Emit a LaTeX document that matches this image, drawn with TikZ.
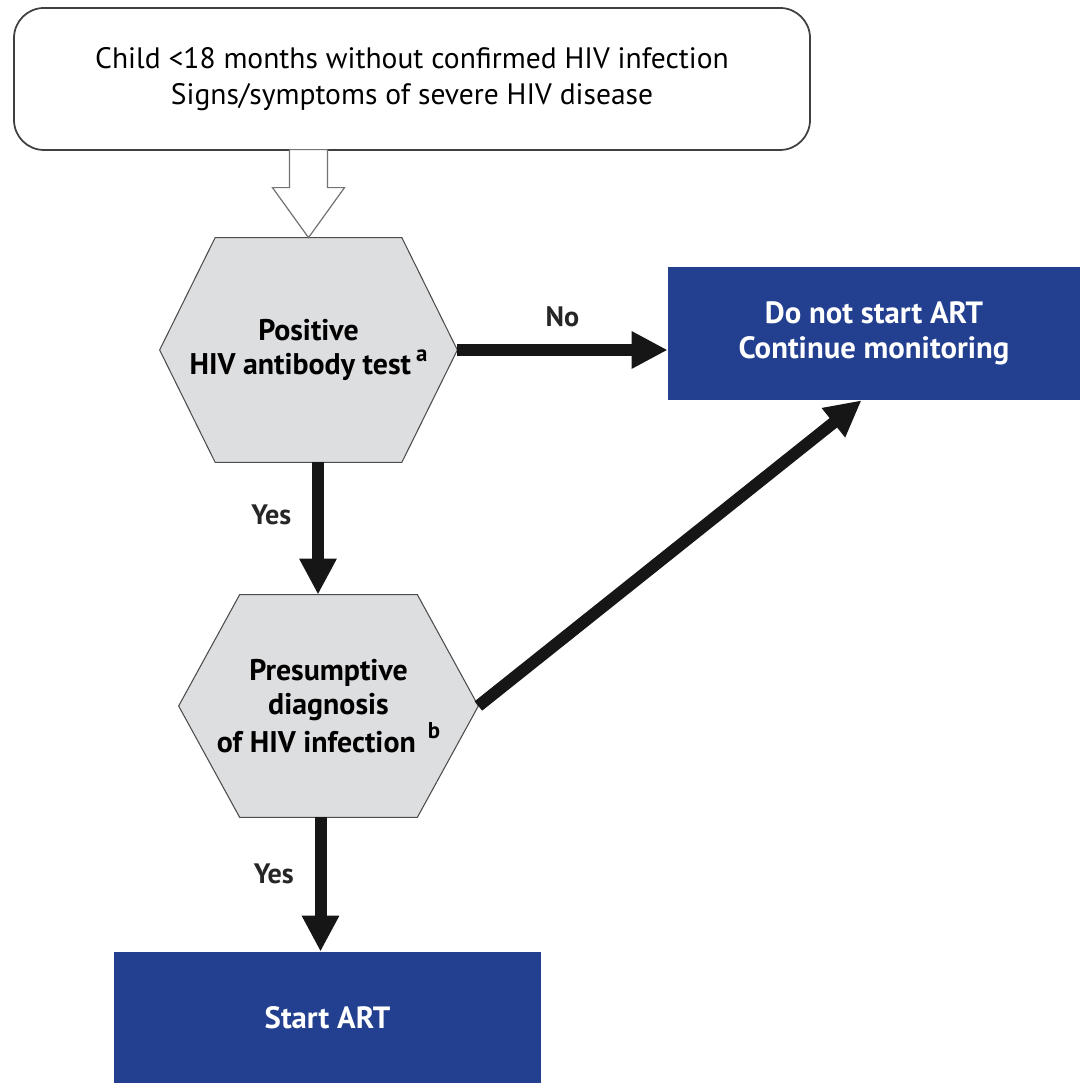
\documentclass[tikz,border=0pt]{standalone}
\usepackage{fontspec}
\setmainfont{PT Sans}
\definecolor{NavyBox}{RGB}{35,63,143}
\definecolor{HexGray}{RGB}{221,222,224}
\definecolor{ArrowInk}{RGB}{22,22,22}
\newcommand{\notemark}[1]{\raisebox{0.45em}{\fontsize{13}{13}\selectfont #1}}
\usetikzlibrary{positioning, arrows.meta, calc, backgrounds}

\begin{document}
\begin{tikzpicture}[
    casebox/.style={draw=black!75, line width=1pt, rounded corners=0.6cm, minimum width=15.92cm, minimum height=2.84cm, align=center, font=\fontsize{16.8}{20.5}\selectfont},
    hexbox/.style={align=center, inner sep=0pt, font=\bfseries\fontsize{17}{19.5}\selectfont},
    hexline/.style={draw=black!70, line width=0.6pt, fill=HexGray},
    navybox/.style={fill=NavyBox, text=white, align=center, inner sep=0pt, font=\bfseries\fontsize{17.5}{20}\selectfont},
    feedline/.style={draw=black!55, line width=0.7pt, fill=white},
    flow/.style={-{Triangle[length=0.72cm, width=0.7cm]}, line width=0.24cm, ArrowInk},
    answer/.style={font=\bfseries\fontsize{16}{18}\selectfont, text=black!85}
  ]
  \useasboundingbox (0,0) rectangle (21.6,21.66);
  % boxes
  \node[casebox] (child) at (8.24,20.08) {Child <18 months without confirmed HIV infection\\Signs/symptoms of severe HIV disease};
  \node[hexbox, minimum width=5.94cm, minimum height=4.48cm] (antibody) at (6.17,14.66) {Positive\\HIV antibody test\,\notemark{a}};
  \node[hexbox, minimum width=5.98cm, minimum height=4.44cm] (presume) at (6.57,7.54) {Presumptive\\diagnosis\\of HIV infection\hspace{0.4em}\notemark{b}};
  \node[navybox, minimum width=8.24cm, minimum height=2.66cm] (nostart) at (17.48,14.99) {Do not start ART\\Continue monitoring};
  \node[navybox, minimum width=8.54cm, minimum height=2.62cm] (start) at (6.55,1.31) {Start ART};
  % hexagon outlines behind the text
  \begin{scope}[on background layer]
    \foreach \hex/\cut in {antibody/1.11, presume/1.22}
      \draw[hexline] (\hex.west) -- ([xshift=\cut cm]\hex.north west) -- ([xshift=-\cut cm]\hex.north east) -- (\hex.east)
        -- ([xshift=-\cut cm]\hex.south east) -- ([xshift=\cut cm]\hex.south west) -- cycle;
  \end{scope}
  % hollow entry arrow
  \draw[feedline] (antibody.north) -- ++(-0.72,1.0) -- ++(0.34,0) -- ++(0,0.76) -- ++(0.76,0) -- ++(0,-0.76) -- ++(0.34,0) -- cycle;
  % connectors
  \draw[flow] (antibody.east) -- node[answer, above=0.22cm] {No} (antibody.east -| nostart.west);
  \draw[flow] ([xshift=0.19cm]antibody.south) -- node[answer, left=0.3cm, pos=0.4] {Yes} ([xshift=0.19cm]antibody.south |- presume.north);
  \draw[flow] (presume.east) -- ([xshift=-0.25cm]nostart.south);
  \draw[flow] ([xshift=-0.14cm]start.north |- presume.south) -- node[answer, left=0.3cm, pos=0.42] {Yes} ([xshift=-0.14cm]start.north);
\end{tikzpicture}
\end{document}
